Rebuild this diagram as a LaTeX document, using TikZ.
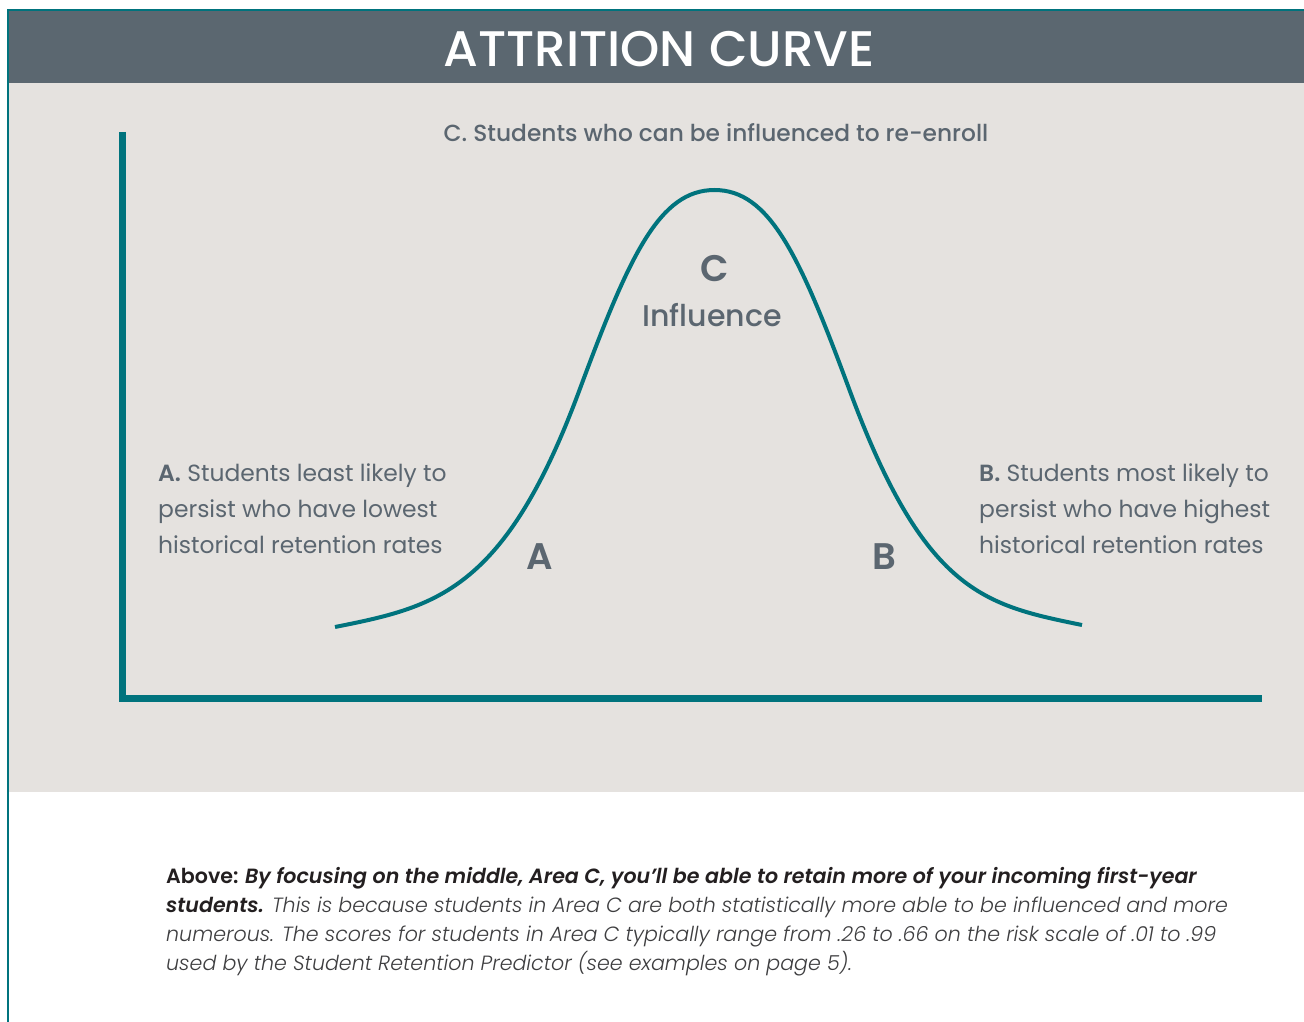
\documentclass[tikz,border=0pt]{standalone}
\usepackage{fontspec}
\setmainfont{Poppins}
\newfontfamily\popmed{Poppins}[UprightFont=* Medium, BoldFont=* SemiBold, ItalicFont=* Medium Italic, BoldItalicFont=* SemiBold Italic]
\newfontfamily\poplight{Poppins}[UprightFont=* Light, ItalicFont=* Light Italic]
\usetikzlibrary{calc}

\definecolor{headgray}{HTML}{5B6770}
\definecolor{panelgray}{HTML}{E5E2DF}
\definecolor{curveteal}{HTML}{00737D}
\definecolor{labelgray}{HTML}{5B6670}
\definecolor{captionink}{HTML}{231F20}
\definecolor{captionsoft}{HTML}{3E3E40}

\begin{document}
\begin{tikzpicture}[x=1pt, y=-1pt,
  titletext/.style={anchor=base, inner sep=0, text=white, font=\popmed\fontsize{50}{50}\selectfont},
  sidetext/.style={anchor=base west, inner sep=0, text=labelgray, font=\fontsize{23.4}{23.4}\selectfont},
  arealetter/.style={anchor=base, inner sep=0, text=labelgray, font=\popmed\bfseries\fontsize{37}{37}\selectfont},
  captext/.style={anchor=base west, inner sep=0, text=captionsoft, font=\poplight\itshape\fontsize{20.6}{20.6}\selectfont},
  axisline/.style={curveteal, line width=7, line cap=butt, line join=miter},
  curveline/.style={curveteal, line width=4, line cap=butt}]
\useasboundingbox (0,0) rectangle (1304,1022);
\fill[white] (0,0) rectangle (1304,1022);
% panel and header band
\fill[panelgray] (8.5,83.5) rectangle (1304,791.5);
\fill[headgray] (7,9) rectangle (1304,83.5);
\fill[curveteal] (7,9) rectangle (1304,11);
\fill[curveteal] (7,9) rectangle (8.5,1022);
\node[titletext] (title) at (659,67) {ATTRITION CURVE};

% axes
\coordinate (ytop) at (122,132);
\coordinate (origin) at (122,698);
\coordinate (xend) at (1262,698);
\draw[axisline] (ytop) -- (origin) -- (xend);

% bell curve
\coordinate (lowend) at (335,627);
\coordinate (leftbend) at (579.5,390);
\coordinate (peak) at (714.5,190);
\coordinate (rightbend) at (849.5,390);
\coordinate (highend) at (1082,625);
\draw[curveline] (lowend) .. controls (435,607) and (504.5,592.5) .. (leftbend)
  .. controls (629.5,255) and (659.5,190) .. (peak)
  .. controls (769.5,190) and (799.5,255) .. (rightbend)
  .. controls (924.5,592.5) and (984,605) .. (highend);

% labels
\node[sidetext, anchor=base, font=\popmed\fontsize{23.3}{23.3}\selectfont] (ctop) at (716,142) {C. Students who can be influenced to re-enroll};
\node[arealetter] (cletter) at (715,281) {C};
\node[arealetter, font=\popmed\fontsize{30}{30}\selectfont] (cword) at (712,326) {Influence};
\node[arealetter] (aletter) at (540,569) {A};
\node[arealetter] (bletter) at (884,569) {B};
\foreach \txt [count=\i from 0] in {{{\popmed\bfseries A.} Students least likely to},{persist who have lowest},{historical retention rates}}
  \node[sidetext] (lowtext\i) at (158,{481+36*\i}) {\txt};
\foreach \txt [count=\i from 0] in {{{\popmed\bfseries B.} Students most likely to},{persist who have highest},{historical retention rates}}
  \node[sidetext] (hightext\i) at (979,{481+36*\i}) {\txt};

% caption
\node[captext] (cap1) at (166,883) {\textcolor{captionink}{\popmed\bfseries\upshape Above: \itshape By focusing on the middle, Area C, you’ll be able to retain more of your incoming first-year}};
\node[captext] (cap2) at (166,912) {\textcolor{captionink}{\popmed\bfseries\itshape students.} This is because students in Area C are both statistically more able to be influenced and more};
\node[captext] (cap3) at (166,941) {numerous. The scores for students in Area C typically range from .26 to .66 on the risk scale of .01 to .99};
\node[captext] (cap4) at (166,970) {used by the Student Retention Predictor (see examples on page 5).};
\end{tikzpicture}
\end{document}
